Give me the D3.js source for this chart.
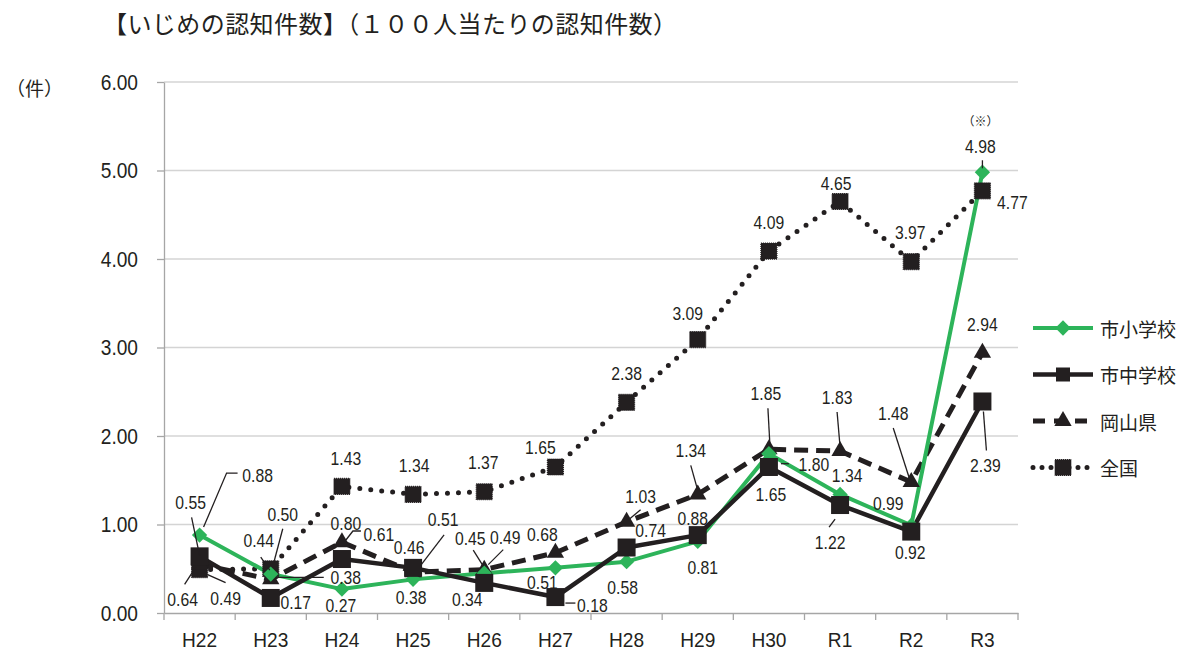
<!DOCTYPE html>
<html lang="ja">
<head>
<meta charset="UTF-8">
<title>いじめの認知件数</title>
<script src="https://d3js.org/d3.v7.min.js"></script>
<style>
  body { margin: 0; background: #fff; }
  text { fill: #231f20; }
</style>
</head>
<body>
<div id="chart"></div>
<script>
// Data
var categories = ["H22", "H23", "H24", "H25", "H26", "H27", "H28", "H29", "H30", "R1", "R2", "R3"];
var elementary = [0.88, 0.44, 0.27, 0.38, 0.45, 0.51, 0.58, 0.81, 1.80, 1.34, 0.99, 4.98];
var juniorHigh = [0.64, 0.17, 0.61, 0.51, 0.34, 0.18, 0.74, 0.88, 1.65, 1.22, 0.92, 2.39];
var okayama    = [0.55, 0.38, 0.80, 0.46, 0.49, 0.68, 1.03, 1.34, 1.85, 1.83, 1.48, 2.94];
var national   = [0.49, 0.50, 1.43, 1.34, 1.37, 1.65, 2.38, 3.09, 4.09, 4.65, 3.97, 4.77];
var seriesNames = ["市小学校", "市中学校", "岡山県", "全国"];
var yTicks = [0, 1, 2, 3, 4, 5, 6];
var titleText = "【いじめの認知件数】（１００人当たりの認知件数）";
var unitText = "（件）";
var noteText = "（※）";

// label placement (offset from the point) and leader lines, per series
var labelOffsets = {
    elementary: [[58,-60],[-12,-34],[-1,16],[-2,18],[-14,-35],[-13,15],[-4,26],[5,26],[45,11],[7,-19],[-23,-22],[-2,-26]],
    juniorHigh: [[-17,43],[25,5],[37,-25],[30,-48],[-17,17],[37,8],[24,-17],[-5,-17],[2,28],[-10,37],[-1,21],[3,64]],
    okayama:    [[-9,-62],[75,-2],[4,-19],[-4,-25],[21,-32],[-13,-18],[14,-25],[-7,-44],[-3,-56],[-3,-54],[-18,-69],[0,-28]],
    national:   [[26,29],[12,-54],[4,-28],[1,-29],[-1,-29],[-15,-19],[0,-29],[-10,-26],[0,-29],[-4,-18],[-1,-29],[30,12]]
};
var leaders = {
    elementary: {0: [[4,-8],[27,-62],[38,-62]], 1: [[-10,-17],[-1,-4]], 4: [[-11,-23],[-1,-7]], 8: [[12,10],[20,10]], 11: [[0,-12],[0,-4]]},
    juniorHigh: {0: [[-15,28],[-4,11]], 2: [[4,-19],[11,-28],[19,-28]], 3: [[31,-33],[8,-3]], 5: [[10,6],[20,6]], 9: [[-5,14],[-11,22]], 11: [[1,10],[4,49]]},
    okayama:    {0: [[-8,-47],[0,-9]], 1: [[5,-2],[53,-2]], 4: [[19,-20],[4,-5]], 6: [[14,-12],[2,-2]], 7: [[-7,-29],[0,-4]], 8: [[-1,-41],[1,-4]], 9: [[-3,-39],[0,-4]], 10: [[-18,-54],[-2,-4]]},
    national:   {0: [[26,13],[8,5]], 1: [[12,-40],[3,-6]]}
};

var width = 1183, height = 650;
var margin = { top: 82, right: 165, bottom: 37, left: 164 };
var green = "#2db45a", ink = "#231f20";
var numFont = "'Liberation Sans', Arial, sans-serif";
var jpFont = "'Noto Sans CJK JP', 'Noto Sans', sans-serif";

// squeeze text horizontally to mimic a narrow face
function narrow(sel, k) {
    sel.each(function () {
        var len = this.getComputedTextLength();
        d3.select(this).attr("textLength", len * k).attr("lengthAdjust", "spacingAndGlyphs");
    });
}

var svg = d3.select("#chart").append("svg")
    .attr("width", width)
    .attr("height", height);

var x = d3.scaleBand()
    .domain(categories)
    .range([margin.left, width - margin.right]);

var y = d3.scaleLinear()
    .domain([0, 6])
    .range([height - margin.bottom, margin.top]);

// Title and unit
svg.append("text")
    .attr("x", 103).attr("y", 33)
    .style("font-family", jpFont).style("font-size", "24px")
    .attr("textLength", 574).attr("lengthAdjust", "spacing")
    .text(titleText);

svg.append("text")
    .attr("x", 6).attr("y", 96)
    .style("font-family", jpFont).style("font-size", "19px")
    .text(unitText);

// Gridlines
svg.append("g")
    .selectAll("line")
    .data(yTicks.slice(1))
    .enter()
    .append("line")
    .attr("x1", margin.left).attr("x2", width - margin.right)
    .attr("y1", function (d) { return y(d); })
    .attr("y2", function (d) { return y(d); })
    .attr("stroke", "#d4d4d4").attr("stroke-width", 1.5);

// y axis
var yAxis = svg.append("g")
    .attr("transform", "translate(" + margin.left + ",0)")
    .call(d3.axisLeft(y).tickValues(yTicks).tickFormat(d3.format(".2f")).tickSize(7).tickSizeOuter(0).tickPadding(19));
yAxis.select(".domain").attr("stroke", "#a6a6a6").attr("stroke-width", 1.3);
yAxis.selectAll(".tick line").attr("stroke", "#a6a6a6").attr("stroke-width", 1.3);
yAxis.selectAll("text")
    .style("font-family", numFont).style("font-size", "22px").attr("fill", ink)
    .call(narrow, 0.87);

// x axis
var xAxis = svg.append("g")
    .attr("transform", "translate(0," + y(0) + ")")
    .call(d3.axisBottom(x).tickSize(0).tickPadding(19));
xAxis.select(".domain").attr("stroke", "#a6a6a6").attr("stroke-width", 1.3);
xAxis.selectAll("text")
    .style("font-family", numFont).style("font-size", "21px").attr("fill", ink)
    .call(narrow, 0.91);
// boundary ticks
xAxis.selectAll(".bound")
    .data(categories.concat(["end"]))
    .enter()
    .append("line")
    .attr("x1", function (d) { return d === "end" ? x.range()[1] : x(d); })
    .attr("x2", function (d) { return d === "end" ? x.range()[1] : x(d); })
    .attr("y1", 0).attr("y2", 7)
    .attr("stroke", "#a6a6a6").attr("stroke-width", 1.3);

function cx(i) { return x(categories[i]) + x.bandwidth() / 2; }

var series = [
    { key: "national", name: seriesNames[3], values: national, color: ink, width: 5, dash: "0,11", cap: "round", marker: "dotsquare" },
    { key: "okayama", name: seriesNames[2], values: okayama, color: ink, width: 5, dash: "14,8", cap: "butt", marker: "triangle" },
    { key: "elementary", name: seriesNames[0], values: elementary, color: green, width: 4, dash: null, cap: "butt", marker: "diamond" },
    { key: "juniorHigh", name: seriesNames[1], values: juniorHigh, color: ink, width: 4.5, dash: null, cap: "butt", marker: "square" }
];

var line = d3.line()
    .x(function (d, i) { return cx(i); })
    .y(function (d) { return y(d); });

function drawMarker(g, type, color) {
    if (type === "diamond") {
        g.append("path").attr("d", d3.symbol().type(d3.symbolDiamond2).size(150)).attr("fill", color);
    } else if (type === "square") {
        g.append("rect").attr("x", -9).attr("y", -9).attr("width", 18).attr("height", 18).attr("fill", color);
    } else if (type === "triangle") {
        g.append("path").attr("d", d3.symbol().type(d3.symbolTriangle).size(130)).attr("fill", color);
    } else {
        g.append("rect").attr("x", -8).attr("y", -8).attr("width", 16).attr("height", 16)
            .attr("fill", color).attr("stroke", color).attr("stroke-width", 1.2).attr("stroke-dasharray", "1,1");
    }
}

// Lines
series.forEach(function (s) {
    svg.append("path")
        .datum(s.values)
        .attr("d", line)
        .attr("fill", "none")
        .attr("stroke", s.color)
        .attr("stroke-width", s.width)
        .attr("stroke-linecap", s.cap)
        .attr("stroke-linejoin", "round")
        .attr("stroke-dasharray", s.dash);
});

// Markers
series.forEach(function (s) {
    svg.append("g").selectAll("g")
        .data(s.values)
        .enter()
        .append("g")
        .attr("transform", function (d, i) { return "translate(" + cx(i) + "," + y(d) + ")"; })
        .each(function () { drawMarker(d3.select(this), s.marker, s.color); });
});

// Leader lines and value labels
series.forEach(function (s) {
    var offs = labelOffsets[s.key];
    var lead = leaders[s.key];
    s.values.forEach(function (v, i) {
        var px = cx(i), py = y(v);
        if (lead[i]) {
            svg.append("polyline")
                .attr("points", lead[i].map(function (p) { return (px + p[0]) + "," + (py + p[1]); }).join(" "))
                .attr("fill", "none").attr("stroke", ink).attr("stroke-width", 1.3);
        }
        svg.append("text")
            .attr("x", px + offs[i][0])
            .attr("y", py + offs[i][1])
            .attr("text-anchor", "middle")
            .attr("dominant-baseline", "central")
            .style("font-family", numFont).style("font-size", "18.5px")
            .text(v.toFixed(2))
            .call(narrow, 0.85);
    });
});

// note above R3 elementary value
svg.append("text")
    .attr("x", cx(11) - 2).attr("y", y(elementary[11]) - 52)
    .attr("text-anchor", "middle").attr("dominant-baseline", "central")
    .style("font-family", jpFont).style("font-size", "12px")
    .text(noteText);

// Legend
var legendOrder = [series[2], series[3], series[1], series[0]];
var legend = svg.append("g").attr("transform", "translate(1033,328)");
legendOrder.forEach(function (s, i) {
    var row = legend.append("g").attr("transform", "translate(0," + (i * 46.5) + ")");
    row.append("line")
        .attr("x1", 0).attr("x2", 60).attr("y1", 0).attr("y2", 0)
        .attr("stroke", s.color).attr("stroke-width", s.width)
        .attr("stroke-linecap", s.cap)
        .attr("stroke-dasharray", s.key === "okayama" ? "12,9" : s.dash === "0,11" ? "0,9" : null);
    var m = row.append("g").attr("transform", "translate(30,0)");
    drawMarker(m, s.marker, s.color);
    if (s.marker === "square") m.select("rect").attr("x", -7).attr("y", -7).attr("width", 14).attr("height", 14);
    row.append("text")
        .attr("x", 67).attr("y", 0)
        .attr("dominant-baseline", "central")
        .style("font-family", jpFont).style("font-size", "19px")
        .text(s.name);
});
</script>
</body>
</html>
